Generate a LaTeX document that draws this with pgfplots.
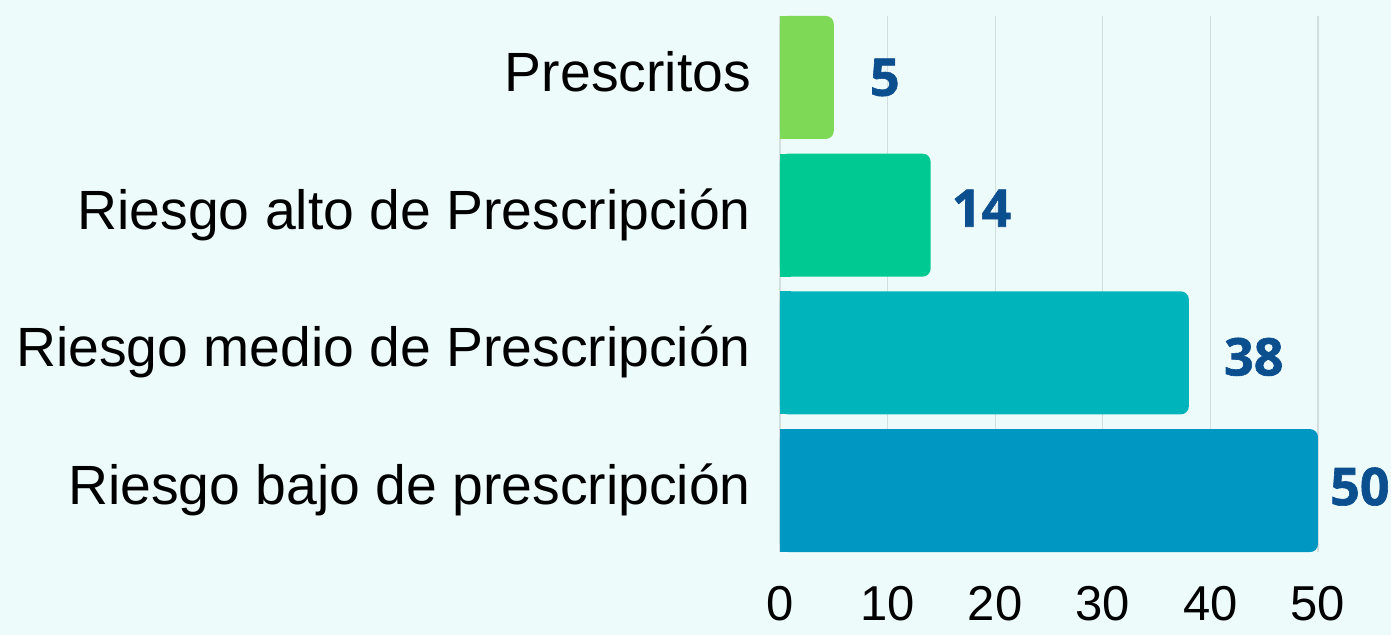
\documentclass[border=0pt]{standalone}
\usepackage{fontspec}
\setmainfont{Liberation Sans}
\newfontfamily\vfont[FakeBold=1.2]{Open Sans Bold}
\usepackage{pgfplots}
\pgfplotsset{compat=1.18}
\definecolor{bgc}{HTML}{EEFBFB}
\definecolor{gridc}{HTML}{D3DFDF}
\definecolor{cB}{HTML}{0098C3}
\definecolor{cM}{HTML}{00B4BC}
\definecolor{cA}{HTML}{00C992}
\definecolor{cP}{HTML}{7ED957}
\definecolor{labc}{HTML}{0B4F8F}
\pgfplotsset{
  valbar/.style n args={3}{xbar, bar shift=0pt, bar width=123pt, fill=#1, draw=none,
    rounded corners=8pt, nodes near coords,
    every node near coord/.append style={anchor=west, inner sep=0pt, xshift=#2, yshift=#3,
      font=\vfont\fontsize{52}{58}\selectfont, text=labc}},
  patchbar/.style={xbar, bar shift=0pt, bar width=123pt, fill=#1, draw=none, forget plot},
}
\begin{document}
\begin{tikzpicture}
\fill[bgc] (-780pt,-83pt) rectangle (611pt,552pt);
\begin{axis}[
  at={(0pt,0pt)}, anchor=south west,
  scale only axis, width=538pt, height=536pt,
  xmin=0, xmax=50, ymin=-0.446, ymax=3.446,
  clip=false,
  axis line style={draw=none},
  major tick length=0pt,
  xtick={0,10,20,30,40,50},
  ytick={0,1,2,3},
  yticklabels={Riesgo bajo de prescripción, Riesgo medio de Prescripción, Riesgo alto de Prescripción, Prescritos},
  xmajorgrids, ymajorgrids=false,
  grid style={draw=gridc, line width=1.3pt},
  /pgf/number format/assume math mode=true,
  xticklabel style={font=\fontsize{49}{55}\selectfont, inner sep=0pt, anchor=north, yshift=-34pt},
  yticklabel style={font=\fontsize{55.3}{62}\selectfont, inner sep=0pt, anchor=east, xshift=-29pt, text height=40pt, text depth=12pt},
]
\addplot[patchbar=cB] coordinates {(1,0)};
\addplot[valbar={cB}{12pt}{4pt}] coordinates {(50,0)};
\addplot[patchbar=cM] coordinates {(1,1)};
\addplot[valbar={cM}{35pt}{-4pt}] coordinates {(38,1)};
\addplot[patchbar=cA] coordinates {(1,2)};
\addplot[valbar={cA}{21pt}{7pt}] coordinates {(14,2)};
\addplot[patchbar=cP] coordinates {(1,3)};
\addplot[valbar={cP}{36pt}{0pt}] coordinates {(5,3)};
\end{axis}
\pgfresetboundingbox
\useasboundingbox (-780pt,-83pt) rectangle (611pt,552pt);
\end{tikzpicture}
\end{document}
